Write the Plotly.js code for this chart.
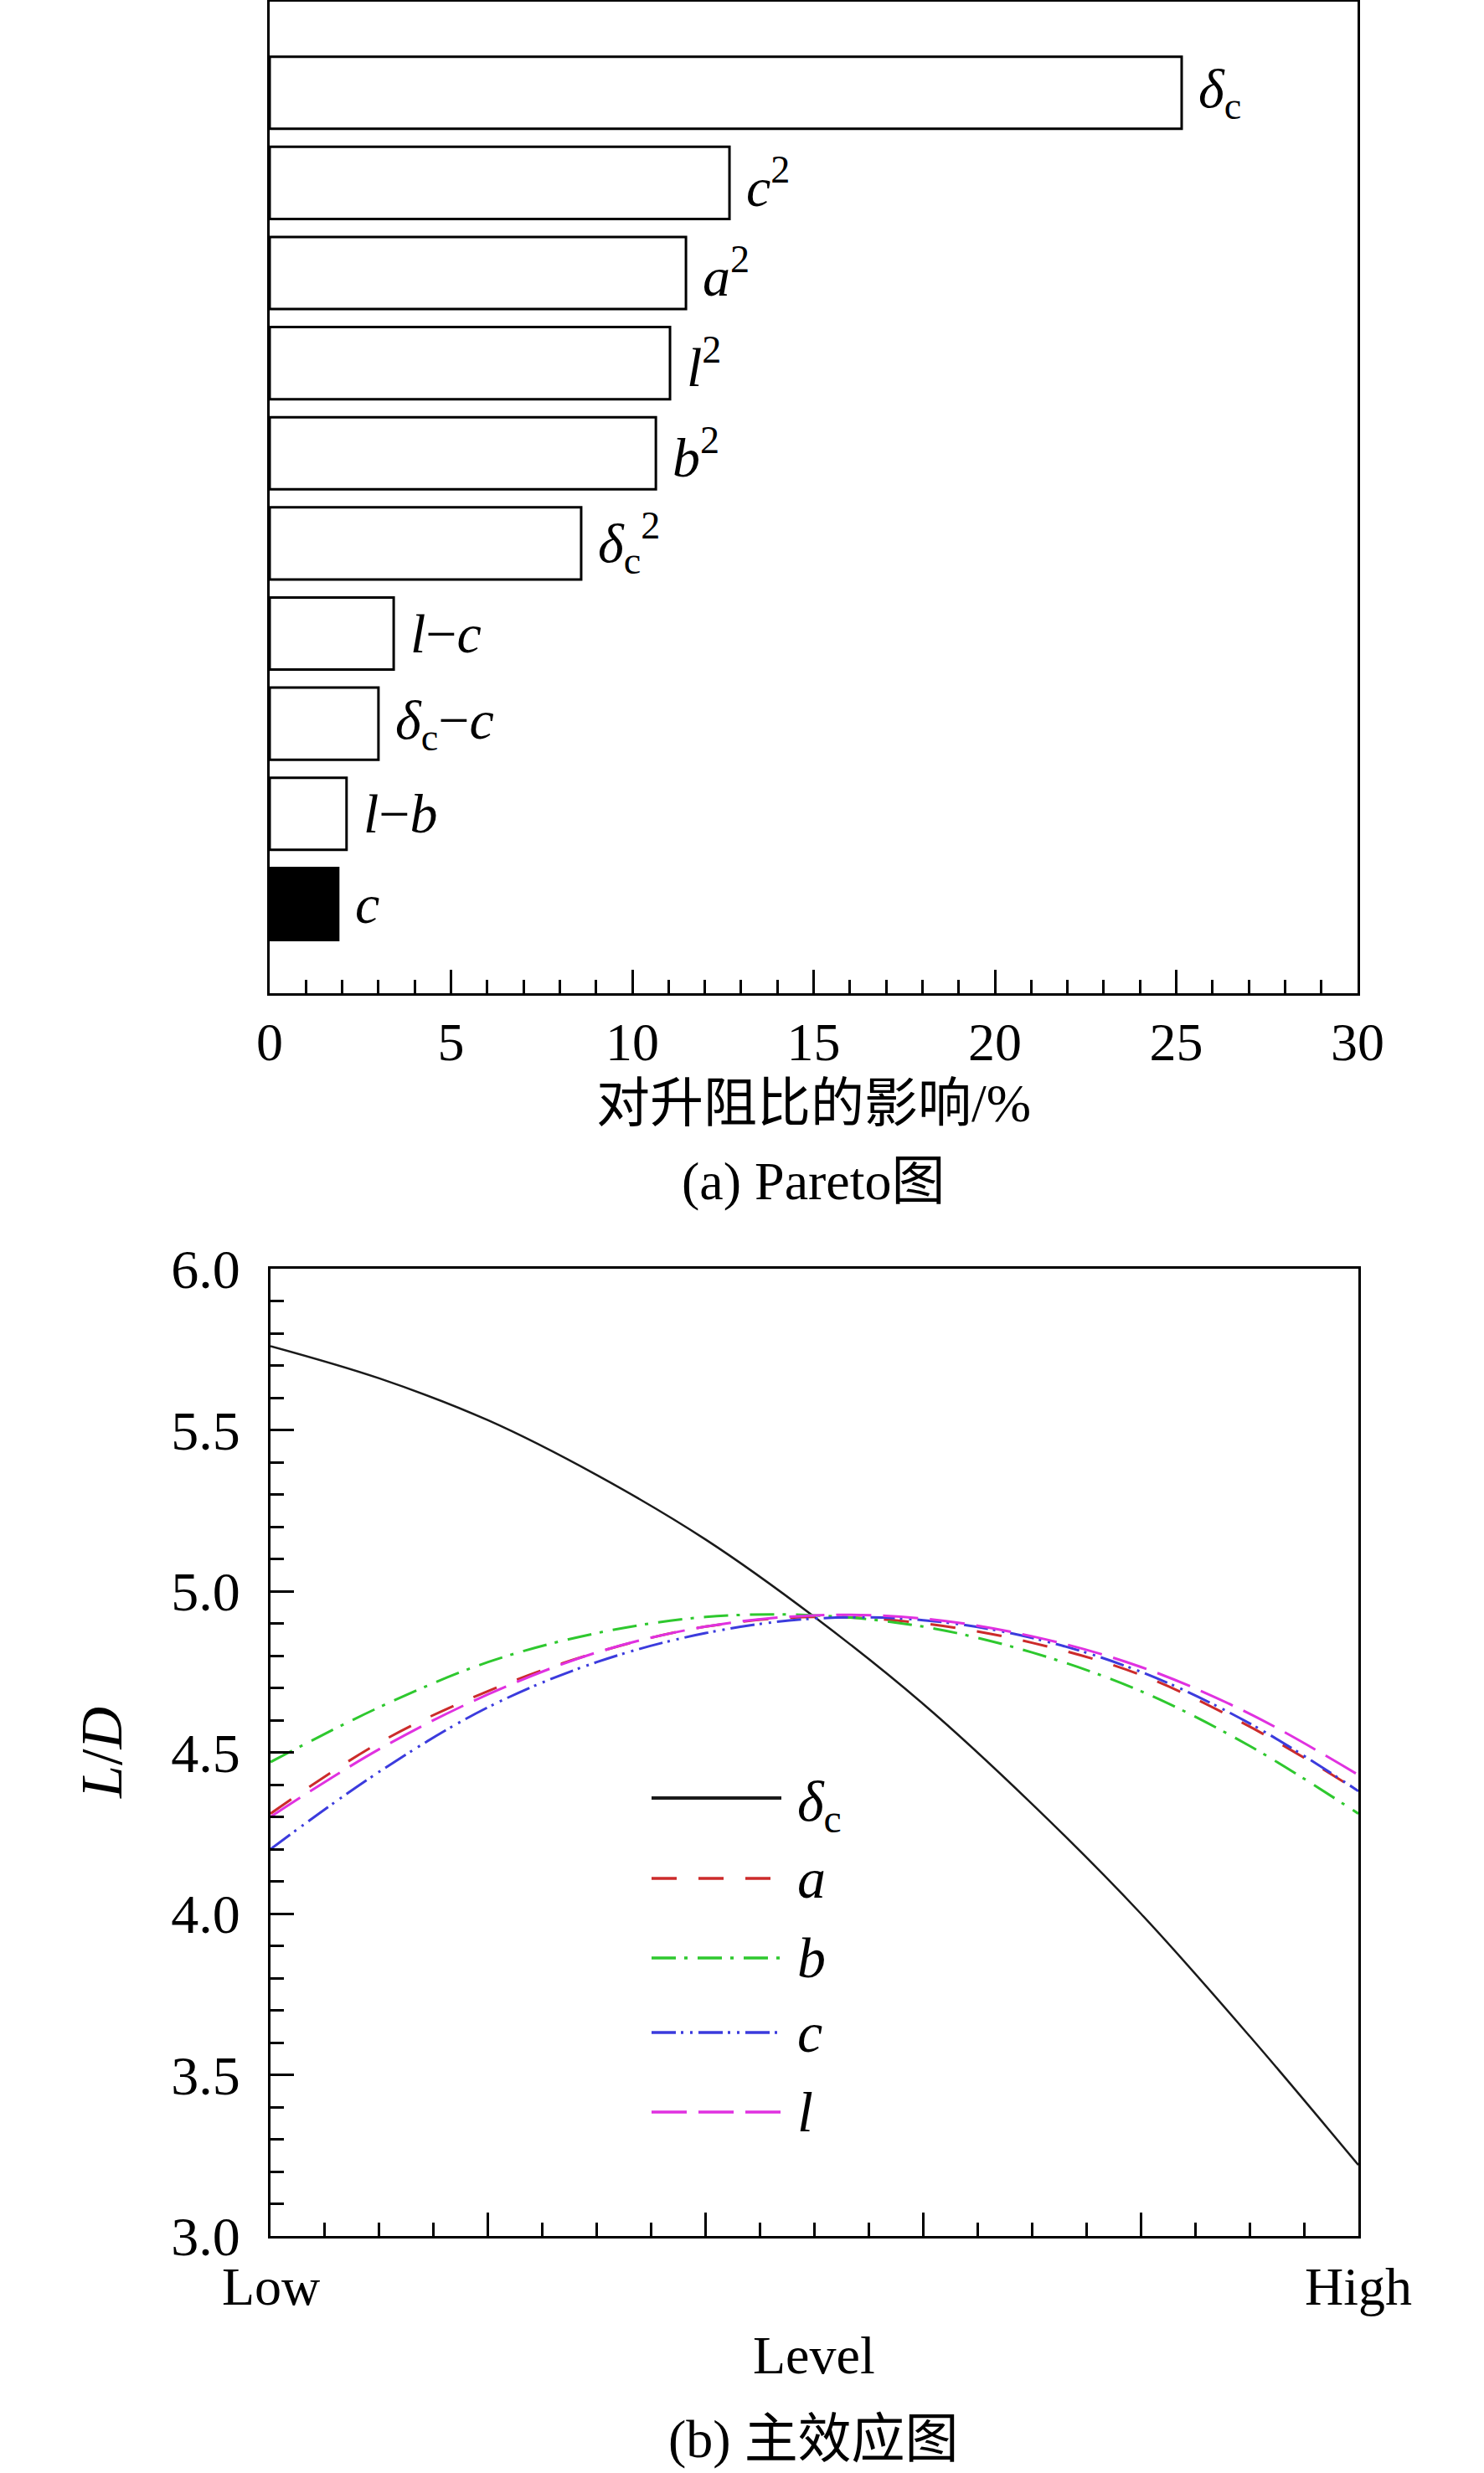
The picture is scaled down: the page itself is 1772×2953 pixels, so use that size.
<!DOCTYPE html>
<html>
<head>
<meta charset="utf-8">
<script src="https://cdn.plot.ly/plotly-3.0.1.min.js"></script>
<style>html,body{margin:0;padding:0;background:#fff;}#chart{width:1772px;height:2953px;}</style>
</head>
<body>
<div id="chart"></div>
<script>
// ---------- data: (a) Pareto ----------
const paretoFactors = ['<i>δ</i><sub>c</sub>', '<i>c</i><sup>2</sup>', '<i>a</i><sup>2</sup>', '<i>l</i><sup>2</sup>', '<i>b</i><sup>2</sup>',
  '<i>δ</i><sub>c</sub><sup>2</sup>', '<i>l</i>−<i>c</i>', '<i>δ</i><sub>c</sub>−<i>c</i>', '<i>l</i>−<i>b</i>', '<i>c</i>'];
const paretoEffect = [25.15, 12.68, 11.48, 11.04, 10.65, 8.59, 3.42, 3.00, 2.12, 1.89];
const paretoTicks = [0, 5, 10, 15, 20, 25, 30];

// ---------- data: (b) main effects ----------
const levels = [0, 0.1, 0.2, 0.3, 0.4, 0.5, 0.6, 0.7, 0.8, 0.9, 1.0];
const levelTickVals = [0, 0.2, 0.4, 0.6, 0.8, 1.0];
const levelLabelVals = [0, 1.0];
const levelLabelText = ['Low', 'High'];
const ldDelta = [5.76, 5.66, 5.53, 5.36, 5.16, 4.92, 4.65, 4.34, 4.00, 3.62, 3.22];
const ldA = [4.31, 4.53, 4.69, 4.81, 4.89, 4.92, 4.90, 4.84, 4.74, 4.58, 4.38];
const ldB = [4.47, 4.64, 4.78, 4.87, 4.92, 4.925, 4.89, 4.81, 4.69, 4.52, 4.31];
const ldC = [4.20, 4.44, 4.64, 4.78, 4.87, 4.915, 4.91, 4.855, 4.75, 4.59, 4.38];
const ldL = [4.30, 4.51, 4.68, 4.81, 4.89, 4.925, 4.915, 4.86, 4.765, 4.62, 4.43];
const seriesNames = ['<i>δ</i><sub>c</sub>', '<i>a</i>', '<i>b</i>', '<i>c</i>', '<i>l</i>'];
const seriesValues = [ldDelta, ldA, ldB, ldC, ldL];

// ---------- styles ----------
const W = 1772, H = 2953;
const px = x => x / W;
const py = y => 1 - y / H;
const FONT = "'Liberation Serif', 'Times New Roman', 'Noto Sans CJK SC', serif";
const seriesStyles = [
  {color: '#1a1a1a', dash: 'solid', width: 2.5},
  {color: '#cc2b2b', dash: '30px,26px', width: 3},
  {color: '#2ec82e', dash: '29px,10px,4px,12px', width: 3},
  {color: '#3b3bdd', dash: '29px,6px,3px,8px,3px,7px', width: 3},
  {color: '#e031e0', dash: '42px,14px', width: 3}
];

const traces = [];
traces.push({
  type: 'bar', orientation: 'h',
  x: paretoEffect, y: paretoFactors,
  xaxis: 'x', yaxis: 'y',
  width: 0.8,
  marker: {color: paretoFactors.map((f, i) => i === paretoFactors.length - 1 ? '#000' : '#fff'),
           line: {color: '#000', width: 3}},
  hoverinfo: 'x+y', showlegend: false
});
seriesValues.forEach((vals, i) => {
  traces.push({
    type: 'scatter', mode: 'lines', x: levels, y: vals, name: seriesNames[i],
    xaxis: 'x2', yaxis: 'y2',
    line: {color: seriesStyles[i].color, dash: seriesStyles[i].dash, width: seriesStyles[i].width, shape: 'spline', smoothing: 1},
    showlegend: false
  });
});

const annotations = [];
paretoFactors.forEach((f, i) => {
  annotations.push({
    xref: 'x', yref: 'y', x: paretoEffect[i], y: f, text: f, showarrow: false,
    xanchor: 'left', yanchor: 'middle', xshift: 18,
    font: {family: FONT, size: 66, color: '#000'}
  });
});
// Low / High level labels
levelLabelVals.forEach((v, i) => {
  annotations.push({xref: 'x2', yref: 'paper', x: v, y: py(2730), text: levelLabelText[i], showarrow: false,
    xanchor: 'center', yanchor: 'middle', font: {family: FONT, size: 64, color: '#000'}});
});
// x title of (b)
annotations.push({xref: 'paper', yref: 'paper', x: px(972), y: py(2812), text: 'Level', showarrow: false,
  xanchor: 'center', yanchor: 'middle', font: {family: FONT, size: 64, color: '#000'}});
// captions
annotations.push({xref: 'paper', yref: 'paper', x: px(971), y: py(1410), text: '(a) Pareto图', showarrow: false,
  xanchor: 'center', yanchor: 'middle', font: {family: FONT, size: 64, color: '#000'}});
annotations.push({xref: 'paper', yref: 'paper', x: px(971), y: py(2912), text: '(b) 主效应图', showarrow: false,
  xanchor: 'center', yanchor: 'middle', font: {family: FONT, size: 64, color: '#000'}});

// legend (drawn manually for long line samples)
const legendRows = [2147, 2243, 2338, 2427, 2522];
const shapes = [];
seriesNames.forEach((n, i) => {
  shapes.push({type: 'line', xref: 'paper', yref: 'paper', x0: px(778), x1: px(933), y0: py(legendRows[i]), y1: py(legendRows[i]),
    line: {color: seriesStyles[i].color, dash: seriesStyles[i].dash, width: i === 0 ? 4 : 3.5}});
  annotations.push({xref: 'paper', yref: 'paper', x: px(950), y: py(legendRows[i] + (i === 0 ? 8 : 0)), text: n, showarrow: false,
    xanchor: 'left', yanchor: 'middle', font: {family: FONT, size: 68, color: '#000'}});
});

const axisCommon = {showline: true, linecolor: '#000', linewidth: 3, mirror: true, showgrid: false, zeroline: false, automargin: false};

const layout = {
  width: W, height: H,
  margin: {l: 0, r: 0, t: 0, b: 0},
  paper_bgcolor: '#fff', plot_bgcolor: '#fff',
  font: {family: FONT, color: '#000', size: 64},
  showlegend: false,
  xaxis: Object.assign({}, axisCommon, {
    domain: [px(322), px(1621)], anchor: 'y', range: [0, 30],
    tickmode: 'array', tickvals: paretoTicks,
    ticks: 'inside', ticklen: 28, tickwidth: 3, tickcolor: '#000',
    minor: {dtick: 1, tick0: 0, ticks: 'inside', ticklen: 16, tickwidth: 3, tickcolor: '#000', showgrid: false},
    tickfont: {family: FONT, size: 64}, ticklabelstandoff: 0,
    title: {text: '对升阻比的影响/%', font: {family: FONT, size: 64}, standoff: 16}
  }),
  yaxis: Object.assign({}, axisCommon, {
    domain: [py(1186), py(2)], anchor: 'x', type: 'category',
    categoryorder: 'array', categoryarray: paretoFactors,
    range: [9.99, -1.01], showticklabels: false, ticks: ''
  }),
  xaxis2: Object.assign({}, axisCommon, {
    domain: [px(323), px(1622)], anchor: 'y2', range: [0, 1],
    tickmode: 'array', tickvals: levelTickVals, showticklabels: false,
    ticks: 'inside', ticklen: 28, tickwidth: 3, tickcolor: '#000',
    minor: {dtick: 0.05, tick0: 0, ticks: 'inside', ticklen: 16, tickwidth: 3, tickcolor: '#000', showgrid: false}
  }),
  yaxis2: Object.assign({}, axisCommon, {
    domain: [py(2670), py(1515)], anchor: 'x2', range: [3, 6],
    tickmode: 'linear', tick0: 3, dtick: 0.5, tickformat: '.1f',
    ticks: 'inside', ticklen: 28, tickwidth: 3, tickcolor: '#000',
    minor: {dtick: 0.1, tick0: 3, ticks: 'inside', ticklen: 16, tickwidth: 3, tickcolor: '#000', showgrid: false},
    tickfont: {family: FONT, size: 66}, ticklabelstandoff: 20,
    title: {text: '<i>L</i>/<i>D</i>', font: {family: FONT, size: 70}, standoff: 36}
  }),
  annotations: annotations,
  shapes: shapes
};

Plotly.newPlot('chart', traces, layout, {displayModeBar: false, responsive: false});
</script>
</body>
</html>
